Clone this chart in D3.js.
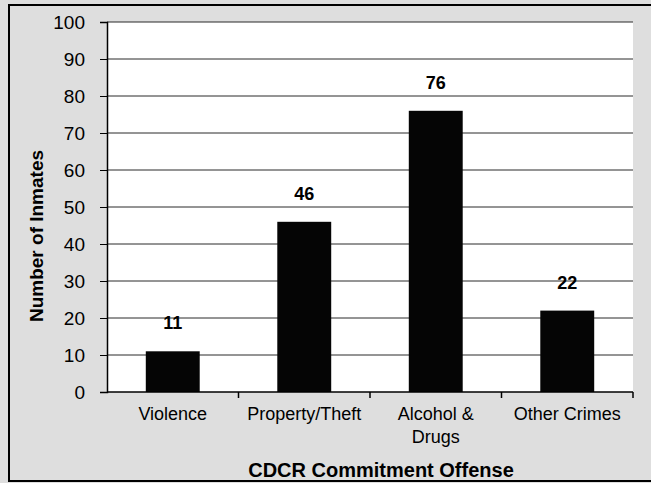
<!DOCTYPE html>
<html>
<head>
<meta charset="utf-8">
<script src="https://cdn.jsdelivr.net/npm/d3@7"></script>
<style>
  html, body { margin: 0; padding: 0; background: #e0e0e0; }
  svg { display: block; font-family: "Liberation Sans", Arial, sans-serif; }
</style>
</head>
<body>
<div id="chart"></div>
<script>
// Data
const categories = ["Violence", "Property/Theft", "Alcohol & Drugs", "Other Crimes"];
const inmates = [11, 46, 76, 22];
const yTicks = [0, 10, 20, 30, 40, 50, 60, 70, 80, 90, 100];

const width = 651, height = 483;
const plot = { left: 107, right: 633, top: 22, bottom: 392 };

const svg = d3.select("#chart").append("svg").attr("width", width).attr("height", height);

// chart area + frame
svg.append("rect").attr("width", width).attr("height", height).attr("fill", "#dedede");
svg.append("rect").attr("x", 9).attr("y", 5).attr("width", width + 10).attr("height", height - 7)
  .attr("fill", "none").attr("stroke", "#000").attr("stroke-width", 2);

// plot area
svg.append("rect").attr("x", plot.left).attr("y", plot.top)
  .attr("width", plot.right - plot.left).attr("height", plot.bottom - plot.top).attr("fill", "#fff");

const x = d3.scaleBand().domain(categories).range([plot.left, plot.right]).paddingInner(0.59).paddingOuter(0.295);
const y = d3.scaleLinear().domain([0, 100]).range([plot.bottom, plot.top]);

// gridlines
svg.append("g").selectAll("line").data(yTicks.filter(d => d > 0)).enter().append("line")
  .attr("x1", plot.left).attr("x2", plot.right)
  .attr("y1", d => y(d)).attr("y2", d => y(d))
  .attr("stroke", "#2a2a2a").attr("stroke-width", 1);

// bars
svg.append("g").selectAll("rect").data(inmates).enter().append("rect")
  .attr("x", (d, i) => x(categories[i])).attr("y", d => y(d))
  .attr("width", x.bandwidth()).attr("height", d => y(0) - y(d))
  .attr("fill", "#050505");

// value labels
svg.append("g").selectAll("text").data(inmates).enter().append("text")
  .attr("x", (d, i) => x(categories[i]) + x.bandwidth() / 2).attr("y", d => y(d) - 22)
  .attr("text-anchor", "middle").style("font-size", "18px").style("font-weight", "bold")
  .text(d => d);

// y axis
const yAxis = svg.append("g").attr("transform", `translate(${plot.left},0)`)
  .call(d3.axisLeft(y).tickValues(yTicks).tickSize(7).tickPadding(15));
yAxis.select(".domain").attr("stroke", "#000").attr("stroke-width", 1.5);
yAxis.selectAll(".tick line").attr("stroke", "#000");
yAxis.selectAll("text").style("font-size", "19px").style("font-family", "'Liberation Sans', Arial, sans-serif").attr("fill", "#000");

// x axis line + boundary ticks
svg.append("line").attr("x1", plot.left).attr("x2", plot.right).attr("y1", y(0)).attr("y2", y(0))
  .attr("stroke", "#000").attr("stroke-width", 1.5);
const bounds = categories.map(c => x(c) + x.bandwidth() / 2 + x.step() / 2);
svg.append("g").selectAll("line").data(bounds).enter().append("line")
  .attr("x1", d => d).attr("x2", d => d).attr("y1", y(0)).attr("y2", y(0) + 6)
  .attr("stroke", "#000").attr("stroke-width", 1.5);

// category labels (wrapped)
const catLabels = svg.append("g").selectAll("text").data(categories).enter().append("text")
  .attr("x", d => x(d) + x.bandwidth() / 2).attr("y", 420)
  .attr("text-anchor", "middle").style("font-size", "18px").attr("fill", "#000")
  .text(d => d);

catLabels.each(function (d) {
  const t = d3.select(this);
  if (this.getComputedTextLength() <= 120) return;
  const words = d.split(" ");
  t.text(null);
  let line = [];
  let tspan = t.append("tspan").attr("x", t.attr("x")).attr("dy", 0);
  words.forEach(w => {
    line.push(w);
    tspan.text(line.join(" "));
    if (tspan.node().getComputedTextLength() > 120 && line.length > 1) {
      line.pop();
      tspan.text(line.join(" "));
      line = [w];
      tspan = t.append("tspan").attr("x", t.attr("x")).attr("dy", 23).text(w);
    }
  });
});

// axis titles
svg.append("text").attr("x", 381).attr("y", 477).attr("text-anchor", "middle")
  .style("font-size", "20px").style("font-weight", "bold").text("CDCR Commitment Offense");

svg.append("text").attr("transform", "translate(43,236) rotate(-90)").attr("text-anchor", "middle")
  .style("font-size", "19px").style("font-weight", "bold").text("Number of Inmates");
</script>
</body>
</html>
